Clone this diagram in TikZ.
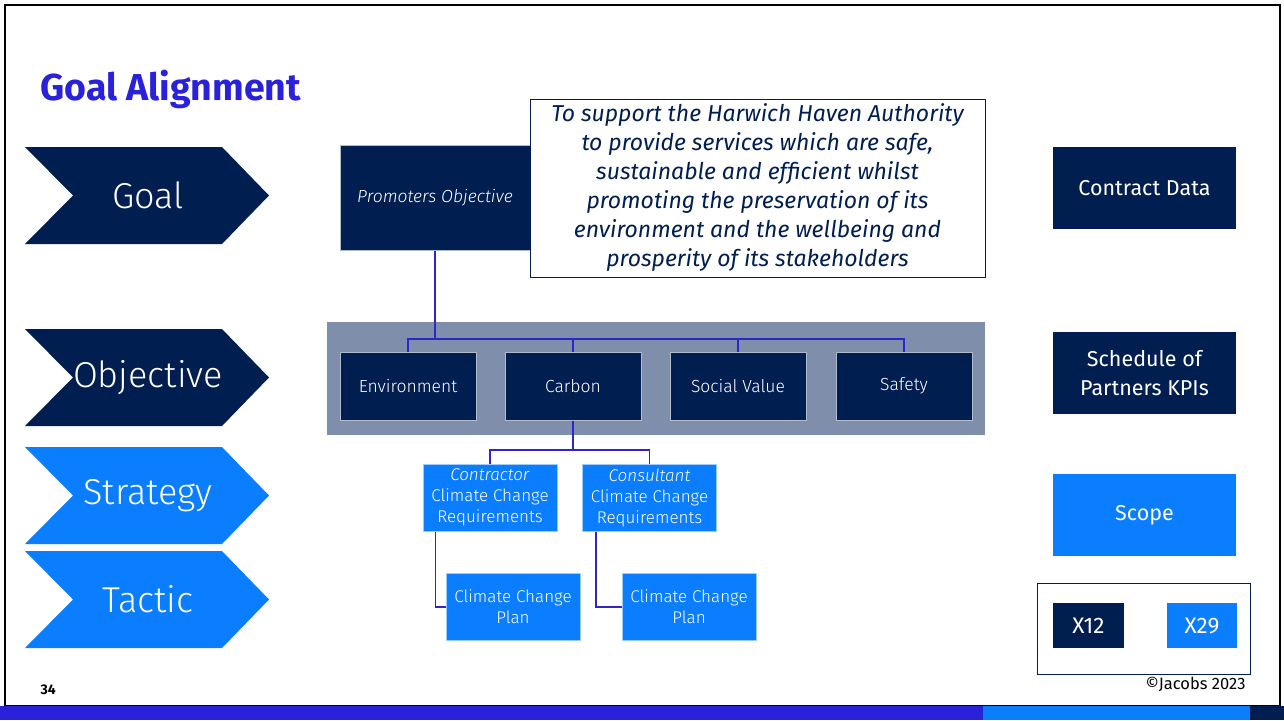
\documentclass[tikz,border=0pt]{standalone}
\usepackage{fontspec}
\setmainfont{Fira Sans}
\newfontfamily\light{Fira Sans}[UprightFont=* Light, ItalicFont=* Light Italic]
\definecolor{navy}{HTML}{001E50}
\definecolor{brightblue}{HTML}{0A7EFF}
\definecolor{titleblue}{HTML}{2A22DA}
\definecolor{panelgrey}{HTML}{7F8EAA}
\definecolor{linkblue}{HTML}{3026C8}
\begin{document}
\begin{tikzpicture}[x=1pt, y=-1pt,
block/.style = {rectangle, fill=navy, draw=white!70!navy, line width=1, text=white, inner sep=0pt, align=center, font=\fontsize{17.5}{21}\selectfont\light, minimum width=136, minimum height=68},
subblock/.style = {block, fill=brightblue, draw=white!60!brightblue, font=\fontsize{17}{21}\selectfont\light, minimum width=134, minimum height=67},
sideblock/.style = {block, draw=none, font=\fontsize{21.5}{29}\selectfont, minimum width=183, minimum height=82},
chevlabel/.style = {text=white, font=\fontsize{36}{40}\selectfont\light},
conn/.style = {draw=linkblue, line width=1.3}]
\useasboundingbox (0,0) rectangle (1284,720);
\draw[line width=2] (5,5) rectangle (1280,706);
\fill[titleblue] (0,706) rectangle (983,720);
\fill[brightblue] (983,706) rectangle (1250,720);
\fill[navy] (1250,706) rectangle (1284,720);
\node[anchor=base west, text=titleblue, font=\fontsize{37.5}{42}\selectfont\bfseries] (title) at (37,100) {Goal Alignment};
% chevrons
\foreach \ytop/\col/\lab/\nm in {147/navy/Goal/goal, 329/navy/Objective/objective, 447/brightblue/Strategy/strategy, 551/brightblue/Tactic/tactic} {
  \fill[\col] (25,\ytop) -- (222,\ytop) -- (269,\ytop+48.5) -- (222,\ytop+97) -- (25,\ytop+97) -- (73,\ytop+48.5) -- cycle;
  \node[chevlabel] (\nm) at (148,\ytop+48.5) {\lab};
}
\node[block, minimum width=190, minimum height=105, font=\fontsize{17.5}{20}\selectfont\light\itshape] at (435,197.5) (po) {Promoters Objective};
\node[rectangle, draw=navy, line width=1, fill=white, text=navy, align=center, inner sep=0pt, minimum width=455, minimum height=178, font=\fontsize{23}{29}\selectfont\itshape] at (757.5,188) (aim) {To support the Harwich Haven Authority\\to provide services which are safe,\\sustainable and efficient whilst\\promoting the preservation of its\\environment and the wellbeing and\\prosperity of its stakeholders};
\node[rectangle, fill=panelgrey, minimum width=658, minimum height=113, inner sep=0pt] at (656,378.5) (panel) {};
\node[block] at (408,386) (env) {Environment};
\node[block] at (573,386) (carbon) {Carbon};
\node[block] at (738,386) (social) {Social Value};
\node[block] at (904,386) (safety) {\strut Safety};
\node[subblock] at (490,497.5) (contr) {\textit{Contractor}\\Climate Change\\Requirements};
\node[subblock] at (649.5,497.5) (cons) {\textit{Consultant}\\Climate Change\\Requirements};
\node[subblock] at (513,607) (plan1) {Climate Change\\Plan};
\node[subblock] at (689,607) (plan2) {Climate Change\\Plan};
\coordinate (bus) at (435,339);
\coordinate (bus2) at (573,450);
\draw[conn] (po.south) -- (bus);
\draw[conn] (env.north) |- (bus);
\draw[conn] (carbon.north) |- (bus);
\draw[conn] (social.north) |- (bus);
\draw[conn] (safety.north) |- (bus);
\draw[conn] (carbon.south) -- (bus2);
\draw[conn] (contr.north) |- (bus2);
\draw[conn] (cons.north) |- (bus2);
\draw[conn] ([xshift=13]contr.south west) |- (plan1.west);
\draw[conn] ([xshift=14]cons.south west) |- (plan2.west);
% contract documents
\node[sideblock] at (1144.5,188) (data) {Contract Data};
\node[sideblock] at (1144.5,373) (kpi) {Schedule of\\Partners KPIs};
\node[sideblock, fill=brightblue] at (1144.5,515) (scope) {Scope};
\node[rectangle, draw=navy, line width=1, minimum width=213, minimum height=91, inner sep=0pt] at (1143.5,628.5) (xbox) {};
\node[block, draw=none, minimum width=71, minimum height=45, font=\fontsize{22.5}{26}\selectfont] at (1088.5,625.5) (x12) {X12};
\node[block, draw=none, fill=brightblue, minimum width=70, minimum height=45, font=\fontsize{22.5}{26}\selectfont] at (1202,625.5) (x29) {X29};
\node[anchor=base east, font=\fontsize{16.5}{18}\selectfont] at (1249,689) (copy) {©Jacobs 2023};
\node[anchor=base west, font=\fontsize{14}{16}\selectfont\bfseries] at (37,694) (page) {34};
\end{tikzpicture}
\end{document}
